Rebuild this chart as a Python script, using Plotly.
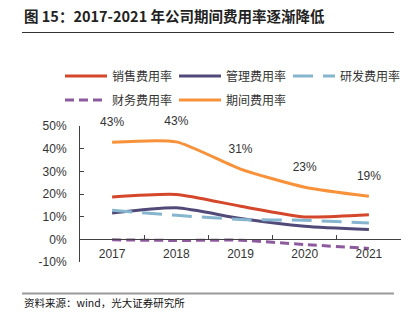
import plotly.graph_objects as go

years = ["2017", "2018", "2019", "2020", "2021"]
sales = [18.7, 19.8, 14.6, 9.9, 10.8]
admin = [11.6, 13.9, 9.2, 5.8, 4.3]
rnd = [12.8, 10.6, 8.8, 8.4, 7.2]
finance = [-0.2, -0.5, -0.4, -2.3, -4.0]
period = [42.8, 43.0, 31.0, 23.0, 19.0]
period_labels = ["43%", "43%", "31%", "23%", "19%"]
y_ticks = [-10, 0, 10, 20, 30, 40, 50]
y_tick_labels = ["-10%", "0%", "10%", "20%", "30%", "40%", "50%"]

names = ["销售费用率", "管理费用率", "研发费用率", "财务费用率", "期间费用率"]
colors = ["#D4472A", "#514A78", "#86B6CF", "#8E5A9E", "#F7923A"]
series = [sales, admin, rnd, finance, period]
dashes = ["solid", "solid", "20px,10px", "9px,5px", "solid"]
legend_ids = ["legend", "legend", "legend", "legend2", "legend2"]

W, H = 410, 323
L, R, T, B = 80, 9, 126, 61
pw, ph = W - L - R, H - T - B

def px2x(px):
    return (px - L) / pw

def py2y(py):
    return (H - B - py) / ph

fig = go.Figure()
for n, c, s, d, lg in zip(names, colors, series, dashes, legend_ids):
    fig.add_trace(go.Scatter(
        x=years, y=s, name=n, mode="lines", legend=lg,
        line=dict(color=c, width=3, dash=d, shape="spline", smoothing=0.6),
    ))

# data labels for 期间费用率 (transparent markers push the text up)
fig.add_trace(go.Scatter(
    x=years, y=period, mode="markers+text", text=period_labels, textposition="top center",
    marker=dict(size=20, opacity=0), showlegend=False, hoverinfo="skip", cliponaxis=False,
    textfont=dict(size=12, color="#333333", family="Liberation Sans, Arial"),
))

annotations = []
annotations.append(dict(x=px2x(22), y=py2y(15), xref="paper", yref="paper",
                        xanchor="left", yanchor="middle", showarrow=False,
                        text="<b>图 15：2017-2021 年公司期间费用率逐渐降低</b>",
                        font=dict(size=14.5, color="#222222", family="Noto Sans CJK SC")))
annotations.append(dict(x=px2x(22), y=py2y(302), xref="paper", yref="paper",
                        xanchor="left", yanchor="middle", showarrow=False,
                        text="资料来源：wind，光大证券研究所",
                        font=dict(size=10.5, color="#111111", family="Noto Sans CJK SC")))

shapes = [
    dict(type="line", xref="paper", yref="paper", x0=px2x(22), x1=px2x(394),
         y0=py2y(32.5), y1=py2y(32.5), line=dict(color="#333333", width=1)),
    dict(type="line", xref="paper", yref="paper", x0=px2x(22), x1=px2x(394),
         y0=py2y(293.5), y1=py2y(293.5), line=dict(color="#999999", width=2)),
]

leg_common = dict(orientation="h", xanchor="left", yanchor="middle",
                  font=dict(size=12, color="#333333", family="Noto Sans CJK SC"),
                  entrywidth=57, entrywidthmode="pixels", itemwidth=42,
                  bgcolor="rgba(0,0,0,0)")

fig.update_layout(
    width=W, height=H,
    margin=dict(l=L, r=R, t=T, b=B, pad=0),
    paper_bgcolor="white", plot_bgcolor="white",
    showlegend=True,
    legend=dict(x=px2x(60), y=py2y(76), **leg_common),
    legend2=dict(x=px2x(60), y=py2y(100), **leg_common),
    annotations=annotations,
    shapes=shapes,
    xaxis=dict(type="category", range=[-0.5, 4.5], anchor="free", position=10 / 60,
               showline=True, linecolor="#404040", linewidth=1,
               ticks="inside", ticklen=4, tickcolor="#404040", tickson="boundaries",
               showgrid=False, zeroline=False, ticklabelstandoff=3,
               tickfont=dict(size=12, color="#333333", family="Liberation Sans, Arial")),
    yaxis=dict(range=[-10, 50], tickmode="array", tickvals=y_ticks, ticktext=y_tick_labels,
               showline=True, linecolor="#404040", linewidth=1,
               ticks="inside", ticklen=4, tickcolor="#404040",
               showgrid=False, zeroline=False, ticklabelstandoff=10,
               tickfont=dict(size=12, color="#333333", family="Liberation Sans, Arial")),
)

fig.write_html("out.html")
